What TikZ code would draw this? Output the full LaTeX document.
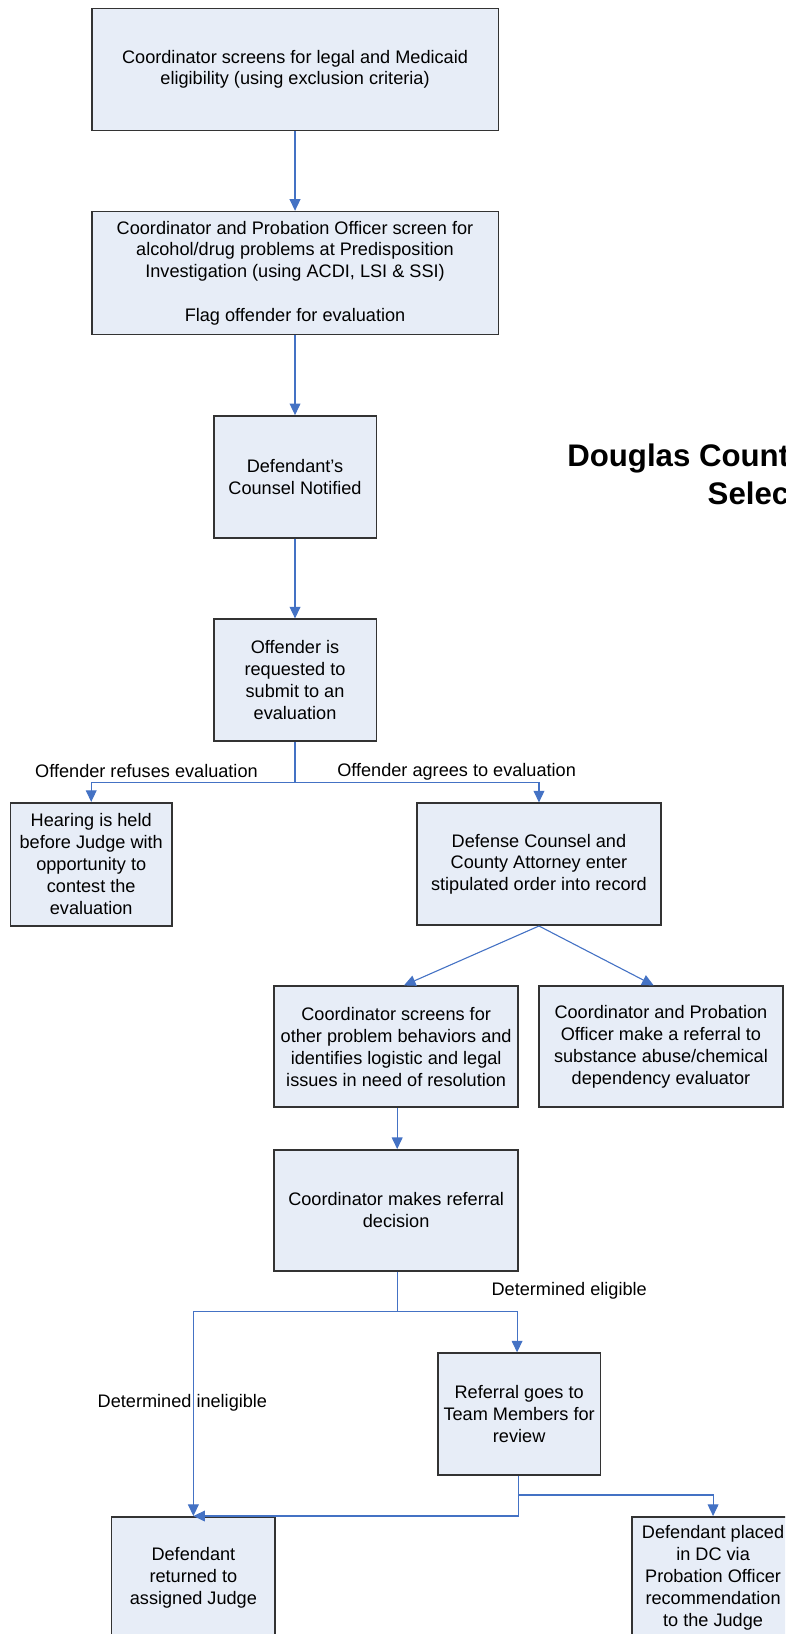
\documentclass[tikz,border=0pt]{standalone}
\usepackage{fontspec}
\setmainfont{Liberation Sans}
\usetikzlibrary{arrows.meta}
\definecolor{boxfill}{HTML}{E7EDF7}
\definecolor{boxline}{HTML}{333333}
\definecolor{conn}{HTML}{4472C4}
\tikzset{
  bx/.style 2 args={draw=boxline, line width=0.8pt, fill=boxfill, inner sep=0pt,
    minimum width=#1*0.52125pt, minimum height=#2*0.52125pt, align=center,
    font=\fontsize{9.07}{10.95}\selectfont},
  lbl/.style={inner sep=0pt, font=\fontsize{9.07}{10.95}\selectfont},
  ttl/.style={inner sep=0pt, anchor=base west, font=\fontsize{15.6}{18}\selectfont\bfseries},
  cn/.style={draw=conn, line width=0.55pt},
  ca/.style={cn, -{Triangle[length=5.8pt,width=5.4pt]}}
}
\begin{document}
\begin{tikzpicture}[x=0.52125pt,y=-0.52125pt]
\useasboundingbox (0,0) rectangle (753,1567.4);
\clip (0,0) rectangle (753,1567.4);

% boxes
\node[bx={390}{117}] (b1) at (283,66.5) {Coordinator screens for legal and Medicaid\\eligibility (using exclusion criteria)};
\node[bx={390}{118}] (b2) at (283,262) {Coordinator and Probation Officer screen for\\alcohol/drug problems at Predisposition\\Investigation (using ACDI, LSI \& SSI)\\[10.95pt]Flag offender for evaluation};
\node[bx={156}{117}] (b3) at (283,457.5) {Defendant’s\\Counsel Notified};
\node[bx={156}{117}] (b4) at (283,652.5) {Offender is\\requested to\\submit to an\\evaluation};
\node[bx={155}{118}] (hear) at (87.5,829) {Hearing is held\\before Judge with\\opportunity to\\contest the\\evaluation};
\node[bx={234}{117}] (def) at (517,829) {Defense Counsel and\\County Attorney enter\\stipulated order into record};
\node[bx={234}{116}] (cs) at (380,1004) {Coordinator screens for\\other problem behaviors and\\identifies logistic and legal\\issues in need of resolution};
\node[bx={234}{116}] (cp) at (634,1004) {Coordinator and Probation\\Officer make a referral to\\substance abuse/chemical\\dependency evaluator};
\node[bx={234}{116}] (rd) at (380,1161) {Coordinator makes referral\\decision};
\node[bx={156}{117}] (rg) at (498,1356.5) {Referral goes to\\Team Members for\\review};
\node[bx={157}{117}] (dr) at (185.5,1513.5) {Defendant\\returned to\\assigned Judge};
\node[bx={156}{117}] (dp) at (684,1513.5) {Defendant placed\\in DC via\\Probation Officer\\recommendation\\to the Judge};

% title
\node[ttl] (t1) at (543.8,447.6) {Douglas County};
\node[ttl] (t2) at (678.5,484.4) {Selection};

% labels
\node[lbl] (l1) at (140.5,740) {Offender refuses evaluation};
\node[lbl] (l2) at (438,740) {Offender agrees to evaluation};
\node[lbl] (l3) at (546,1238) {Determined eligible};
\node[lbl] (l4) at (175,1346) {Determined ineligible};

% coordinates
\coordinate (s1) at (283,750.4);
\coordinate (s2) at (381,1258);
\coordinate (s3) at (497,1434);

% connectors
\draw[ca] (b1) -- (b2);
\draw[ca] (b2) -- (b3);
\draw[ca] (b3) -- (b4);
\draw[cn] (b4.south) -- (s1);
\draw[ca] (s1) -| (hear.north);
\draw[ca] (s1) -| (def.north);
\draw[ca] (def.south) -- (cs.north -| 387.5,0);
\draw[ca] (def.south) -- (cp.north -| 627,0);
\draw[ca] (cs.south -| 381,0) -- (rd.north -| 381,0);
\draw[cn] (rd.south -| 381,0) -- (s2);
\draw[ca] (s2) -| (dr.north);
\draw[ca] (s2) -| (rg.north -| 496,0);
\draw[cn] (rg.south -| 497,0) -- (s3);
\draw[ca] (s3) -| (dp.north);
\draw[ca] (s3) |- (dr.north);
\end{tikzpicture}
\end{document}
